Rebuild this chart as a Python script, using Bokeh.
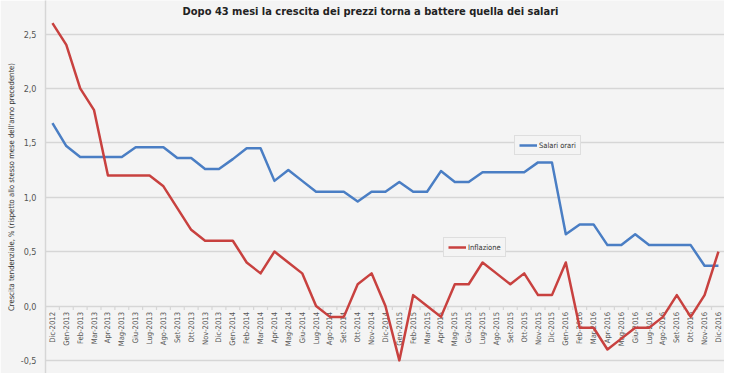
from math import pi
from bokeh.plotting import figure
from bokeh.models import Range1d, FixedTicker, Legend, LegendItem, Label
from bokeh.core.properties import value
from bokeh.embed import file_html
from bokeh.resources import INLINE

months = ["Dic-2012",
          "Gen-2013", "Feb-2013", "Mar-2013", "Apr-2013", "Mag-2013", "Giu-2013",
          "Lug-2013", "Ago-2013", "Set-2013", "Ott-2013", "Nov-2013", "Dic-2013",
          "Gen-2014", "Feb-2014", "Mar-2014", "Apr-2014", "Mag-2014", "Giu-2014",
          "Lug-2014", "Ago-2014", "Set-2014", "Ott-2014", "Nov-2014", "Dic-2014",
          "Gen-2015", "Feb-2015", "Mar-2015", "Apr-2015", "Mag-2015", "Giu-2015",
          "Lug-2015", "Ago-2015", "Set-2015", "Ott-2015", "Nov-2015", "Dic-2015",
          "Gen-2016", "Feb-2016", "Mar-2016", "Apr-2016", "Mag-2016", "Giu-2016",
          "Lug-2016", "Ago-2016", "Set-2016", "Ott-2016", "Nov-2016", "Dic-2016"]

salari_orari = [1.68,
                1.47, 1.37, 1.37, 1.37, 1.37, 1.46, 1.46, 1.46, 1.36, 1.36, 1.26, 1.26,
                1.35, 1.45, 1.45, 1.15, 1.25, 1.15, 1.05, 1.05, 1.05, 0.96, 1.05, 1.05,
                1.14, 1.05, 1.05, 1.24, 1.14, 1.14, 1.23, 1.23, 1.23, 1.23, 1.32, 1.32,
                0.66, 0.75, 0.75, 0.56, 0.56, 0.66, 0.56, 0.56, 0.56, 0.56, 0.37, 0.37]

inflazione = [2.6,
              2.4, 2.0, 1.8, 1.2, 1.2, 1.2, 1.2, 1.1, 0.9, 0.7, 0.6, 0.6,
              0.6, 0.4, 0.3, 0.5, 0.4, 0.3, 0.0, -0.1, -0.1, 0.2, 0.3, 0.0,
              -0.5, 0.1, 0.0, -0.1, 0.2, 0.2, 0.4, 0.3, 0.2, 0.3, 0.1, 0.1,
              0.4, -0.2, -0.2, -0.4, -0.3, -0.2, -0.2, -0.1, 0.1, -0.1, 0.1, 0.5]

y_ticks = [-0.5, 0.0, 0.5, 1.0, 1.5, 2.0, 2.5]
title_text = "Dopo 43 mesi la crescita dei prezzi torna a battere quella dei salari"
y_label = "Crescita tendenziale, % (rispetto allo stesso mese dell'anno precedente)"

BG = "#f4f4f4"
GRID = "#d6d6d6"
BLUE = "#4a7ec4"
RED = "#c8413f"
FONT = "'DejaVu Sans Condensed', 'Liberation Sans Narrow', 'DejaVu Sans', sans-serif"

border_left = 45
frame_w, frame_h = 679, 373
px_per_cat = 13.875
px_per_unit = 108.8
x_start = -0.5
x_end = x_start + frame_w / px_per_cat
zero_px = 305.5
y_end = zero_px / px_per_unit
y_start = y_end - frame_h / px_per_unit

xs = list(range(len(months)))

p = figure(frame_width=frame_w, frame_height=frame_h,
           x_range=Range1d(x_start, x_end), y_range=Range1d(y_start, y_end),
           output_backend="svg", toolbar_location=None,
           min_border_left=border_left, min_border_right=0,
           min_border_top=0, min_border_bottom=0)
p.background_fill_color = BG
p.border_fill_color = BG
p.outline_line_color = None

p.xaxis.visible = False
p.xgrid.visible = False
p.ygrid.ticker = FixedTicker(ticks=y_ticks)
p.ygrid.grid_line_color = GRID
p.ygrid.grid_line_width = 1.5

yax = p.yaxis[0]
yax.ticker = FixedTicker(ticks=y_ticks)
yax.major_label_overrides = {t: f"{t:.1f}".replace(".", ",") for t in y_ticks}
yax.major_tick_line_color = None
yax.minor_tick_line_color = None
yax.major_tick_out = 0
yax.major_tick_in = 0
yax.minor_tick_out = 0
yax.minor_tick_in = 0
yax.axis_line_color = GRID
yax.axis_line_width = 1.5
yax.major_label_standoff = 9
yax.major_label_text_font = FONT
yax.major_label_text_font_size = "9px"
yax.major_label_text_color = "#555555"
yax.axis_label = y_label
yax.axis_label_text_font = FONT
yax.axis_label_text_font_size = "7.6px"
yax.axis_label_text_font_style = "normal"
yax.axis_label_text_color = "#333333"
yax.axis_label_standoff = 2

# category "axis" on the zero line
bounds = [x - 0.5 for x in xs] + [xs[-1] + 0.5]
tick_len = 4 / px_per_unit
p.segment(x0=bounds, y0=[0] * len(bounds), x1=bounds, y1=[-tick_len] * len(bounds),
          line_color=GRID, line_width=1.2)
p.text(x=xs, y=[0] * len(xs), text=months, angle=pi / 2,
       text_align="right", text_baseline="middle", y_offset=6,
       text_font=value(FONT), text_font_size="7.6px", text_color="#555555")

blue = p.line(xs, salari_orari, line_color=BLUE, line_width=2.5, line_join="round")
red = p.line(xs, inflazione, line_color=RED, line_width=2.5, line_join="round")

def make_legend(item, loc):
    lg = Legend(items=[item], location=loc, orientation="vertical",
                label_text_font=FONT, label_text_font_size="7.5px", label_text_color="#333333",
                glyph_width=18, glyph_height=10, label_height=10, label_standoff=2,
                padding=4, margin=0, spacing=0,
                background_fill_color=BG, background_fill_alpha=1.0,
                border_line_color="#c8c8c8", border_line_width=1)
    p.add_layout(lg, "center")
    return lg

make_legend(LegendItem(label="Salari orari", renderers=[blue]), (469, 218))
make_legend(LegendItem(label="Inflazione", renderers=[red]), (398, 116))

title_center_px = 370
title_x = x_start + (title_center_px - border_left) / px_per_cat
title_y = y_end - 11 / px_per_unit
p.add_layout(Label(x=title_x, y=title_y, text=title_text, text_align="center",
                   text_baseline="alphabetic", text_font=FONT, text_font_size="11px",
                   text_font_style="bold", text_color="#222222"))

open("out.html", "w").write(file_html(p, INLINE))
